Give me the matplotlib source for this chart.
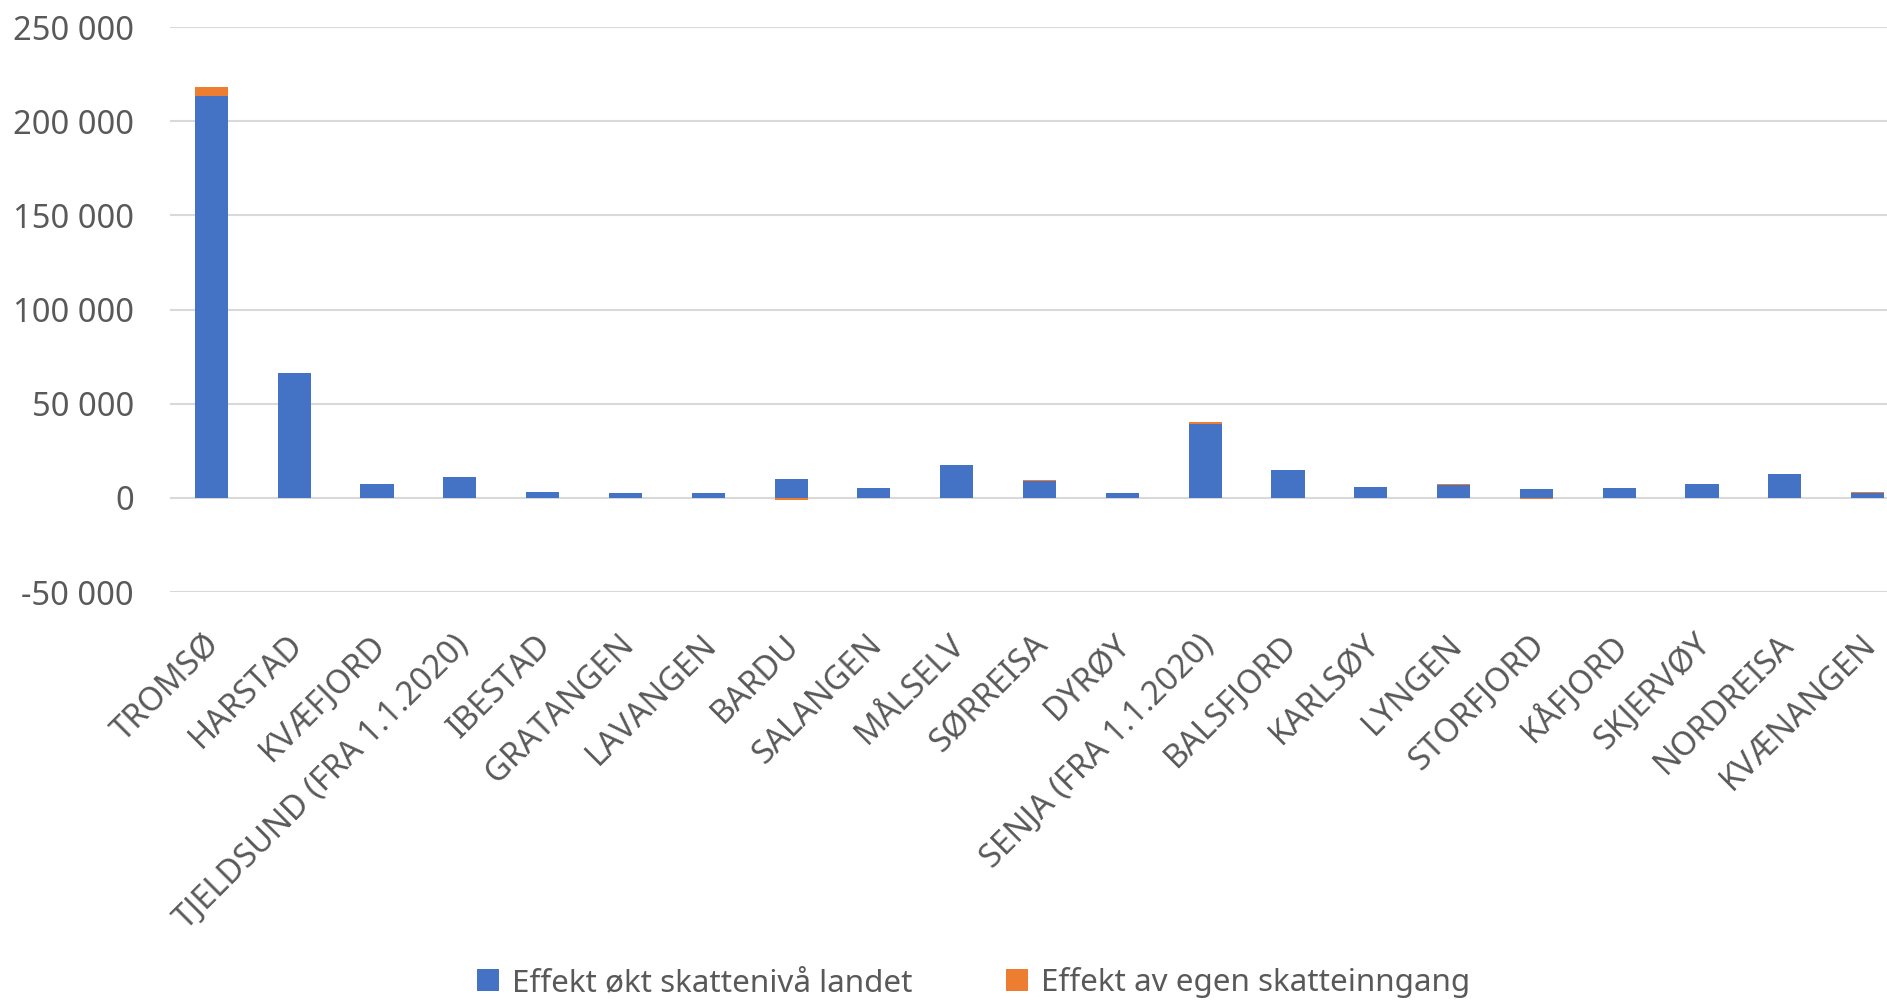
import matplotlib.pyplot as plt
from matplotlib.ticker import FuncFormatter, MultipleLocator
from matplotlib.transforms import ScaledTranslation
import numpy as np

plt.rcParams['font.family'] = ['Noto Sans', 'DejaVu Sans']

# Data
kommuner = ['TROMSØ', 'HARSTAD', 'KVÆFJORD', 'TJELDSUND (FRA 1.1.2020)', 'IBESTAD',
            'GRATANGEN', 'LAVANGEN', 'BARDU', 'SALANGEN', 'MÅLSELV', 'SØRREISA',
            'DYRØY', 'SENJA (FRA 1.1.2020)', 'BALSFJORD', 'KARLSØY', 'LYNGEN',
            'STORFJORD', 'KÅFJORD', 'SKJERVØY', 'NORDREISA', 'KVÆNANGEN']
effekt_landet = [213600, 66300, 7600, 11100, 3400, 2900, 2500, 10300, 5300, 17500, 9200,
                 2700, 39200, 14700, 5800, 7100, 4600, 5300, 7400, 12500, 2900]
effekt_egen = [4600, 300, 0, 0, 0, 0, 0, -1000, 0, 0, 200,
               150, 1400, 200, 200, 100, -300, 50, 0, 0, 100]
serier = ['Effekt økt skattenivå landet', 'Effekt av egen skatteinngang']

BLUE = '#4472C4'
ORANGE = '#ED7D31'
GREY = '#595959'

fig = plt.figure(figsize=(18.87, 10.02), dpi=100)
ax = fig.add_axes([0.0901, 0.409, 0.9216, 0.564])

x = np.arange(len(kommuner))
blue = np.array(effekt_landet)
orange = np.array(effekt_egen)
# Excel stacks negatives from zero, positives on top of the positive part
bottom = np.where((orange >= 0) & (blue >= 0), blue, 0)

ax.bar(x, blue, width=0.4, color=BLUE, label=serier[0], zorder=3)
ax.bar(x, orange, width=0.4, bottom=bottom, color=ORANGE, label=serier[1], zorder=3)

ax.set_xlim(-0.5, len(kommuner) - 0.5)
ax.set_ylim(-50000, 250000)
ax.yaxis.set_major_locator(MultipleLocator(50000))
ax.yaxis.set_major_formatter(FuncFormatter(lambda v, p: f'{v:,.0f}'.replace(',', ' ')))
ax.grid(axis='y', color='#D9D9D9', linewidth=1.5, zorder=0)

for s in ax.spines.values():
    s.set_visible(False)
ax.tick_params(axis='both', length=0, colors=GREY)
ax.tick_params(axis='y', pad=26, labelsize=23.5)

ax.set_xticks(x)
ax.set_xticklabels(kommuner, rotation=45, ha='right', va='top', rotation_mode='anchor')
ax.tick_params(axis='x', pad=26, labelsize=23.5)
shift = ScaledTranslation(-0.08, 0, fig.dpi_scale_trans)
for lbl in ax.get_xticklabels():
    lbl.set_transform(lbl.get_transform() + shift)

fig.legend(loc='center', bbox_to_anchor=(0.516, 0.019), ncol=2, frameon=False,
           fontsize=22.6, labelcolor=GREY, handlelength=0.7, handleheight=0.7,
           handletextpad=0.4, columnspacing=3.0)

fig.savefig('out.png', dpi=100)
